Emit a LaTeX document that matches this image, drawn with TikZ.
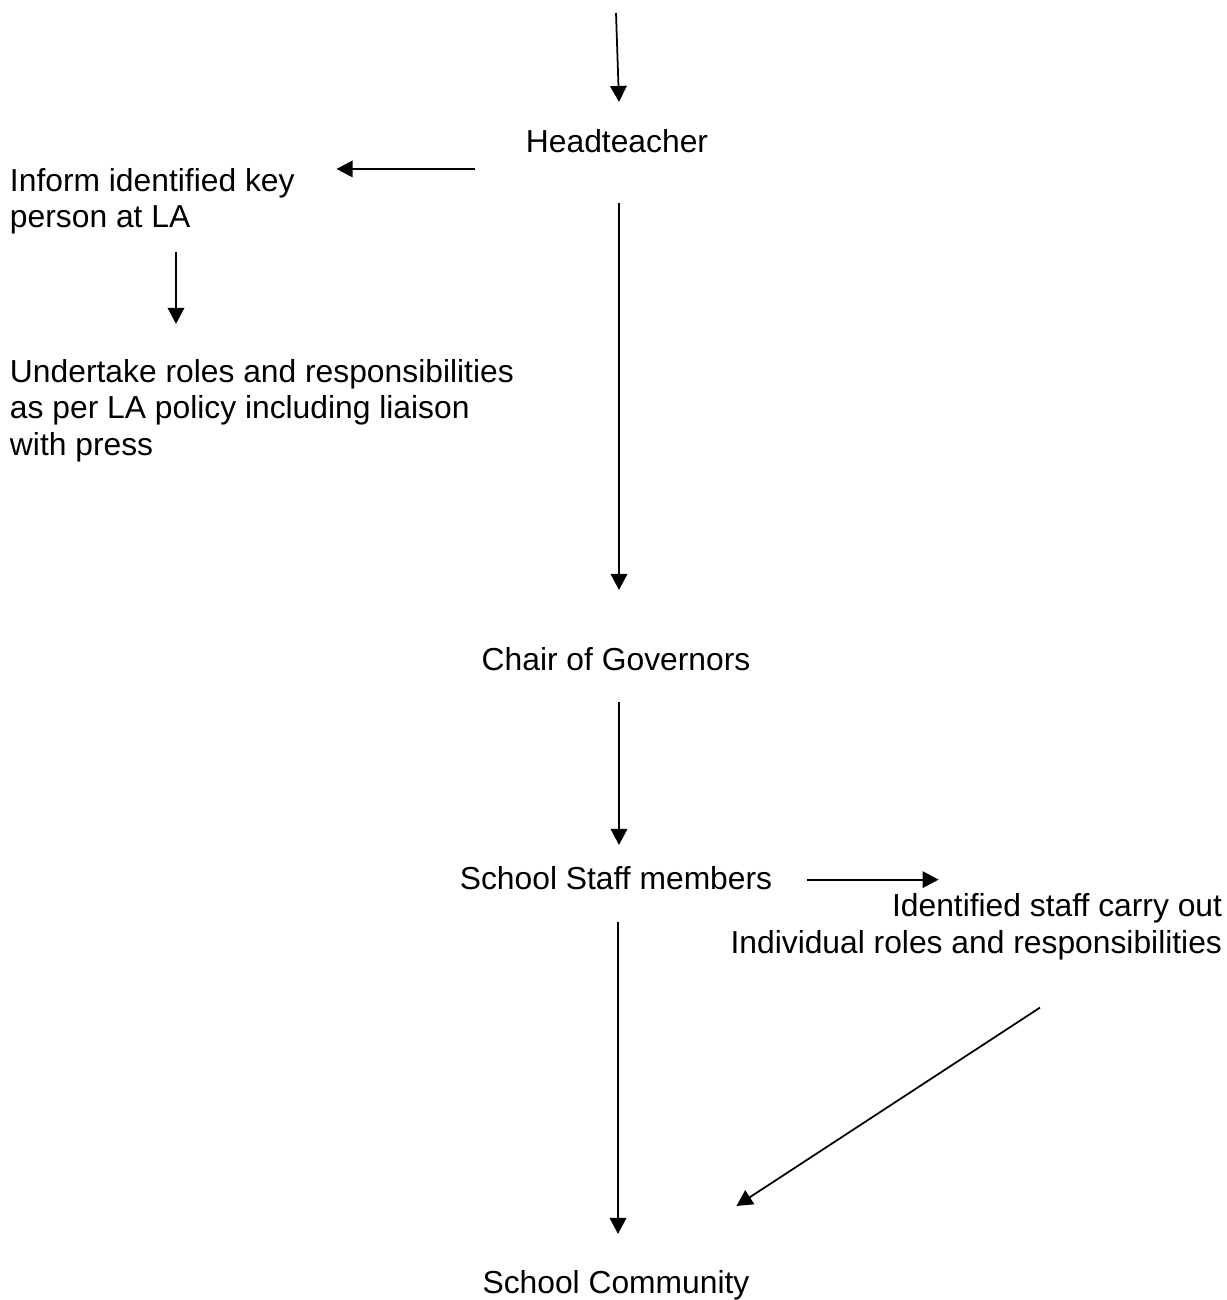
\documentclass[tikz,border=0pt]{standalone}
\usepackage{fontspec}
\setmainfont{Liberation Sans}
\usetikzlibrary{arrows.meta,calc}

\begin{document}
\begin{tikzpicture}[
  x=0.02cm, y=-0.02cm,
  every node/.style={font=\fontsize{18.1}{20.5}\selectfont, inner sep=0pt, outer sep=0pt},
  flow/.style={draw, line width=1pt, -{Triangle[length=0.32cm,width=0.33cm]}},
]
  \useasboundingbox (0,0) rectangle (1226,1300);

  % Entry point at the top
  \coordinate (entry) at (616,13);

  % Main column
  \node[anchor=base] (head) at (617,153) {Headteacher};
  \node[anchor=base] (chair) at (616,670) {Chair of Governors};
  \node[anchor=base] (staff) at (616,889) {School Staff members};
  \node[anchor=base] (community) at (616,1293) {School Community};

  % Local authority branch (base = last line)
  \node[anchor=base west, align=left] (inform) at (10,228) {Inform identified key\\person at LA};
  \node[anchor=base west, align=left] (undertake) at (10,455) {Undertake roles and responsibilities\\as per LA policy including liaison\\with press};

  % Staff branch
  \node[anchor=base east, align=right] (carry) at (1222,953) {Identified staff carry out\\Individual roles and responsibilities};

  % Connectors
  \draw[flow] (entry) -- ($(head.north)+(2,-28)$);
  \draw[flow, shorten <=1.02cm, shorten >=0.84cm] (head.west |- inform.north) -- (inform.north east);
  \draw[flow] ($(inform.south west)+(166,17)$) -- ($(undertake.north west)+(166,-36)$);
  \draw[flow] ($(head.south)+(2,50)$) -- ($(chair.north)+(3,-57)$);
  \draw[flow] ($(chair.south)+(3,32)$) -- ($(staff.north)+(3,-21)$);
  \draw[flow] ($(staff.east)+(35,2)$) -- ($(staff.east -| carry.north west)+(208,2)$);
  \draw[flow] ($(staff.south)+(2,33)$) -- ($(community.north)+(2,-36)$);
  \draw[flow] ($(carry.south east)+(-182,48)$) -- ($(community.north east)+(-13,-64)$);
\end{tikzpicture}
\end{document}
